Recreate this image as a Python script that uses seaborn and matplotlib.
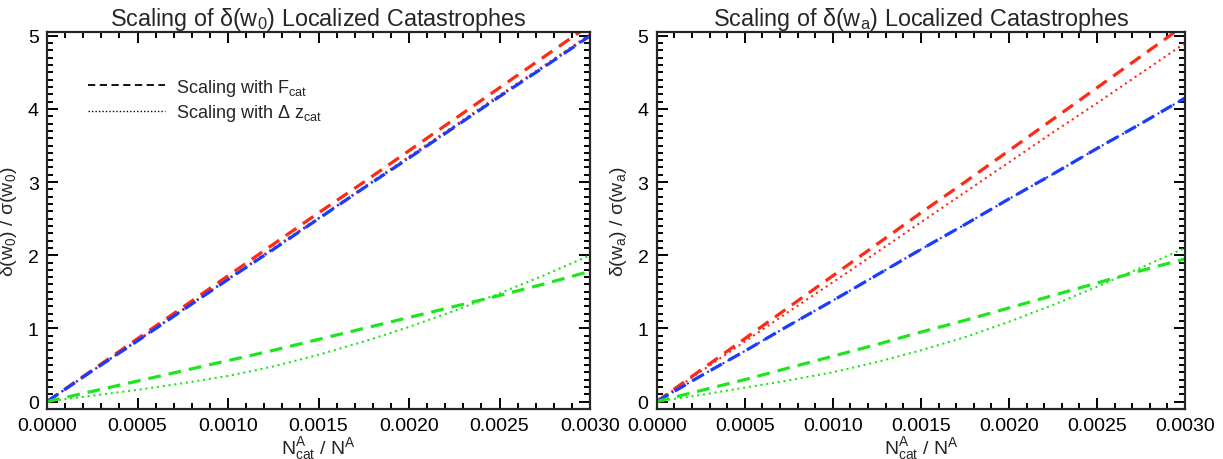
import numpy as np
import matplotlib.pyplot as plt
from matplotlib.lines import Line2D
from matplotlib.ticker import MultipleLocator, FormatStrFormatter
import seaborn as sns

# ── Data ─────────────────────────────────────────────────────────────────────
frac = [0.0, 0.00025, 0.0005, 0.00075, 0.001, 0.00125, 0.0015,
        0.00175, 0.002, 0.00225, 0.0025, 0.00275, 0.003]

# delta(w0)
w0_red_f = [0.0, 0.43, 0.86, 1.29, 1.72, 2.15, 2.58, 3.0, 3.43, 3.86, 4.29, 4.72, 5.15]
w0_red_z = [0.0, 0.42, 0.84, 1.26, 1.68, 2.1, 2.51, 2.93, 3.35, 3.77, 4.19, 4.6, 5.02]
w0_blue_f = [0.0, 0.42, 0.83, 1.25, 1.67, 2.08, 2.5, 2.92, 3.33, 3.75, 4.17, 4.58, 5.0]
w0_blue_z = [0.0, 0.42, 0.83, 1.25, 1.67, 2.08, 2.5, 2.92, 3.33, 3.75, 4.17, 4.58, 5.0]
w0_green_f = [0.0, 0.14, 0.28, 0.42, 0.56, 0.7, 0.85, 1.0, 1.15, 1.3, 1.45, 1.61, 1.78]
w0_green_z = [0.0, 0.08, 0.16, 0.25, 0.35, 0.48, 0.64, 0.82, 1.02, 1.24, 1.48, 1.73, 2.0]

# delta(wa)
wa_red_f = [0.0, 0.43, 0.86, 1.29, 1.72, 2.15, 2.58, 3.0, 3.43, 3.86, 4.29, 4.72, 5.15]
wa_red_z = [0.0, 0.41, 0.82, 1.23, 1.63, 2.04, 2.45, 2.86, 3.27, 3.68, 4.08, 4.49, 4.9]
wa_blue_f = [0.0, 0.35, 0.69, 1.04, 1.38, 1.73, 2.08, 2.42, 2.77, 3.11, 3.46, 3.8, 4.15]
wa_blue_z = [0.0, 0.35, 0.69, 1.04, 1.38, 1.73, 2.08, 2.42, 2.77, 3.11, 3.46, 3.8, 4.15]
wa_green_f = [0.0, 0.15, 0.3, 0.46, 0.62, 0.78, 0.95, 1.11, 1.28, 1.45, 1.62, 1.79, 1.95]
wa_green_z = [0.0, 0.09, 0.19, 0.29, 0.4, 0.54, 0.7, 0.88, 1.09, 1.32, 1.57, 1.83, 2.1]

# ── Style ────────────────────────────────────────────────────────────────────
sns.set_theme(style="ticks")
plt.rcParams.update({
    "font.family": ["Liberation Sans", "DejaVu Sans"],
    "mathtext.fontset": "custom",
    "mathtext.rm": "Liberation Sans",
    "mathtext.it": "Liberation Sans",
    "mathtext.default": "regular",
    "axes.linewidth": 1.6,
})
RED, BLUE, GREEN = "#ff2a14", "#1a3cff", "#1ee61e"
DASH = dict(linestyle=(0, (4, 2.5)), lw=2.3)
DOT = dict(linestyle=(0, (1, 1.8)), lw=1.5)

fig = plt.figure(figsize=(12.23, 4.6), dpi=100)
ax_l = fig.add_axes([0.0385, 0.109, 0.444, 0.819])
ax_r = fig.add_axes([0.537, 0.109, 0.432, 0.819])

panels = [
    (ax_l, "0", [(w0_red_f, w0_red_z, RED), (w0_blue_f, w0_blue_z, BLUE),
                 (w0_green_f, w0_green_z, GREEN)]),
    (ax_r, "a", [(wa_red_f, wa_red_z, RED), (wa_blue_f, wa_blue_z, BLUE),
                 (wa_green_f, wa_green_z, GREEN)]),
]

for ax, sub, series in panels:
    for yf, yz, col in series:
        sns.lineplot(x=frac, y=yf, ax=ax, color=col, **DASH)
        sns.lineplot(x=frac, y=yz, ax=ax, color=col, **DOT)

    ax.set_xlim(0, 0.003)
    ax.set_ylim(-0.1, 5.05)
    ax.xaxis.set_major_locator(MultipleLocator(0.0005))
    ax.xaxis.set_minor_locator(MultipleLocator(0.0001))
    ax.xaxis.set_major_formatter(FormatStrFormatter("%.4f"))
    ax.yaxis.set_major_locator(MultipleLocator(1))
    ax.yaxis.set_minor_locator(MultipleLocator(0.1))
    ax.tick_params(which="both", direction="in", top=True, right=True,
                   width=1.4, labelsize=14, colors="black")
    ax.tick_params(which="major", length=8, pad=6)
    ax.tick_params(which="minor", length=4)

    ax.set_title(rf"Scaling of δ(w$_{sub}$) Localized Catastrophes",
                 fontsize=16.8, pad=4)
    ax.set_ylabel(rf"δ(w$_{sub}$) / σ(w$_{sub}$)", fontsize=14, labelpad=6)
    ax.set_xlabel(r"N$^{A}_{cat}$ / N$^{A}$", fontsize=14, labelpad=0)

handles = [Line2D([], [], color="black", lw=1.3, linestyle=(0, (4, 2.5))),
           Line2D([], [], color="black", lw=1.0, linestyle=(0, (1, 1.5)))]
ax_l.legend(handles, [r"Scaling with F$_{cat}$", r"Scaling with Δ z$_{cat}$"],
            loc="upper left", bbox_to_anchor=(0.045, 0.925), frameon=False,
            fontsize=13, handlelength=4.3, handletextpad=0.6, labelspacing=0.25)

fig.savefig("out.png", dpi=100)
